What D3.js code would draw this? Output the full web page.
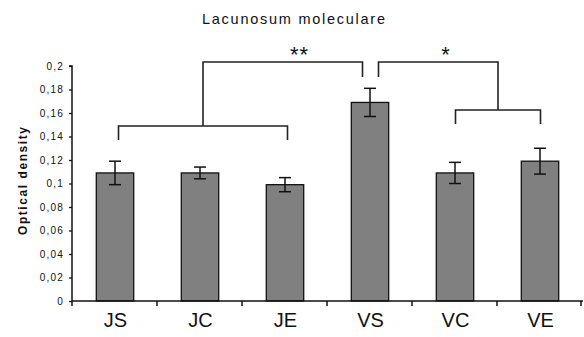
<!DOCTYPE html>
<html>
<head>
<meta charset="utf-8">
<script src="https://cdn.jsdelivr.net/npm/d3@7"></script>
<style>
  html, body { margin: 0; padding: 0; background: #fff; }
  svg { display: block; }
  text { font-family: "Liberation Sans", Arial, sans-serif; fill: #111; }
</style>
</head>
<body>
<svg id="chart" width="584" height="337"></svg>
<script>
// Optical density per group, with error bar half-widths
const groups = ["JS", "JC", "JE", "VS", "VC", "VE"];
const density = [0.109, 0.109, 0.099, 0.169, 0.109, 0.119];
const errors = [0.010, 0.005, 0.006, 0.012, 0.009, 0.011];
const yTicks = [0, 0.02, 0.04, 0.06, 0.08, 0.1, 0.12, 0.14, 0.16, 0.18, 0.2];
const title = "Lacunosum moleculare";
const yTitle = "Optical density";

const svg = d3.select("#chart");
const margin = { left: 72, right: 1, top: 66, bottom: 36 };
const W = 584, H = 337;
const x0 = margin.left, x1 = W - margin.right;
const yBase = H - margin.bottom;

const x = d3.scaleBand().domain(groups).range([x0, x1 - 1]).paddingInner(0.56).paddingOuter(0.28);
const y = d3.scaleLinear().domain([0, 0.2]).range([yBase, margin.top]);
const step = x.step();
const cx = g => x(g) + x.bandwidth() / 2;

// Bars
svg.append("g").selectAll("rect").data(groups).join("rect")
  .attr("x", d => x(d) + 0.5)
  .attr("y", (d, i) => y(density[i]))
  .attr("width", x.bandwidth())
  .attr("height", (d, i) => yBase - y(density[i]))
  .attr("fill", "#808080")
  .attr("stroke", "#111")
  .attr("stroke-width", 1.3);

// Error bars
const eb = svg.append("g").attr("stroke", "#111").attr("stroke-width", 1.5);
groups.forEach((g, i) => {
  const c = cx(g) + 0.5;
  const hi = y(density[i] + errors[i]), lo = y(density[i] - errors[i]);
  eb.append("line").attr("x1", c).attr("x2", c).attr("y1", hi).attr("y2", lo);
  eb.append("line").attr("x1", c - 6).attr("x2", c + 6).attr("y1", hi).attr("y2", hi);
  eb.append("line").attr("x1", c - 6).attr("x2", c + 6).attr("y1", lo).attr("y2", lo);
});

// Y axis
const yAxis = d3.axisLeft(y).tickValues(yTicks).tickSize(3).tickPadding(5)
  .tickFormat(d => d3.format("~g")(d).replace(".", ","));
const ya = svg.append("g").attr("transform", `translate(${x0},0)`).call(yAxis);
ya.select(".domain").attr("stroke", "#111").attr("stroke-width", 1.5).attr("d", `M-3,${margin.top}H0V${yBase + 5}`);
ya.selectAll(".tick line").attr("stroke", "#111").attr("stroke-width", 1.3);
ya.selectAll(".tick text").attr("font-size", 10).attr("letter-spacing", "1.2px").attr("fill", "#111")
  .attr("font-family", "Liberation Sans, Arial, sans-serif");

// X axis with ticks at category boundaries
const xa = svg.append("g").attr("transform", `translate(0,${yBase})`);
xa.append("line").attr("x1", x0).attr("x2", x1).attr("stroke", "#111").attr("stroke-width", 1.5);
groups.forEach((g, i) => {
  const b = x0 + step * (i + 1) - (i === groups.length - 1 ? 1 : 0);
  xa.append("line").attr("x1", b).attr("x2", b).attr("y1", 0).attr("y2", 5).attr("stroke", "#111").attr("stroke-width", 1.5);
});
xa.selectAll("text.cat").data(groups).join("text").attr("class", "cat")
  .attr("x", d => cx(d) + 1).attr("y", 26)
  .attr("text-anchor", "middle").attr("font-size", 20).attr("fill", "#222").text(d => d);

// Titles
svg.append("text").attr("x", 293.5).attr("y", 24).attr("text-anchor", "middle")
  .attr("font-size", 14.5).attr("textLength", 183).attr("lengthAdjust", "spacing").text(title);
svg.append("text").attr("transform", "translate(27,181) rotate(-90)").attr("text-anchor", "middle")
  .attr("font-size", 12).attr("font-weight", "bold").attr("textLength", 108).attr("lengthAdjust", "spacing").text(yTitle);

// Significance brackets
const br = svg.append("g").attr("fill", "none").attr("stroke", "#222").attr("stroke-width", 1.6);
// JS–JE group
const jL = cx("JS") + 4, jR = cx("JE") + 3, jY = 126, jLeg = 140;
br.append("path").attr("d", `M${jL},${jLeg}V${jY}H${jR}V${jLeg}`);
// VC–VE group
const vL = cx("VC") + 1, vR = cx("VE") + 1, vY = 110, vLeg = 124;
br.append("path").attr("d", `M${vL},${vLeg}V${vY}H${vR}V${vLeg}`);
// Upper brackets to VS
const topY = 62, vsLeg = 77, vsC = cx("VS");
const jMid = (jL + jR) / 2, vMid = (vL + vR) / 2;
br.append("path").attr("d", `M${jMid},${jY}V${topY}H${vsC - 7}V${vsLeg}`);
br.append("path").attr("d", `M${vMid},${vY}V${topY}H${vsC + 9}V${vsLeg}`);

svg.append("text").attr("x", vsC - 70).attr("y", 62).attr("text-anchor", "middle")
  .attr("font-size", 22).attr("letter-spacing", "1px").text("**");
svg.append("text").attr("x", vsC + 76).attr("y", 62).attr("text-anchor", "middle")
  .attr("font-size", 22).text("*");
</script>
</body>
</html>
